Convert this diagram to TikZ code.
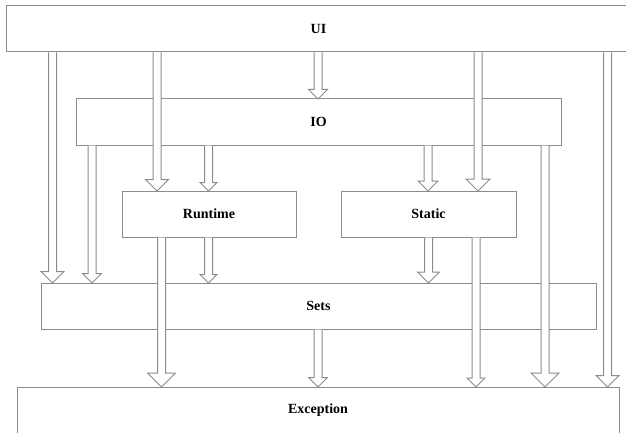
\documentclass[tikz,border=0pt]{standalone}
\usepackage{fontspec}
\setmainfont{Liberation Serif}
\usetikzlibrary{calc}
\definecolor{edge}{RGB}{140,140,140}
\newcommand{\blockarr}[4]{%
  \draw[blockarrow] let \p1=(#2.south), \p2=(#3.north) in
    (#1pt-4pt,\y1-0.5pt) -- (#1pt-4pt,\y2+#4pt) -- (#1pt-#4pt,\y2+#4pt) -- (#1pt,\y2)
    -- (#1pt+#4pt,\y2+#4pt) -- (#1pt+4pt,\y2+#4pt) -- (#1pt+4pt,\y1-0.5pt);}
\begin{document}
\begin{tikzpicture}[x=1pt,y=-1pt,
  box/.style={draw=edge, line width=1pt, fill=white, inner sep=0pt, outer sep=0pt,
    anchor=north west, font=\bfseries\fontsize{14}{16}\selectfont},
  blockarrow/.style={draw=edge, line width=1pt, fill=white, line join=miter}]
\useasboundingbox (0,0) rectangle (626,433);
\clip (0,0) rectangle (626,433);
\fill[white] (0,0) rectangle (626,433);
\node[box, minimum width=625, minimum height=46] (ui) at (6,6) {UI};
\node[box, minimum width=485, minimum height=46] (io) at (76,99) {IO};
\node[box, minimum width=174, minimum height=46] (runtime) at (122,191) {Runtime};
\node[box, minimum width=175, minimum height=46] (static) at (341,191) {Static};
\node[box, minimum width=555, minimum height=46] (sets) at (41,283) {Sets};
\node[box, minimum width=602, minimum height=47] (exc) at (17,387) {Exception};
\blockarr{52.5}{ui}{sets}{11.5}
\blockarr{157}{ui}{runtime}{11.5}
\blockarr{318}{ui}{io}{9.5}
\blockarr{478}{ui}{static}{12}
\blockarr{607.5}{ui}{exc}{11.5}
\blockarr{92}{io}{sets}{9.5}
\blockarr{208.5}{io}{runtime}{8.5}
\blockarr{428}{io}{static}{10}
\blockarr{545}{io}{exc}{14}
\blockarr{161.5}{runtime}{exc}{14}
\blockarr{208.5}{runtime}{sets}{8.5}
\blockarr{428.5}{static}{sets}{11}
\blockarr{476}{static}{exc}{9}
\blockarr{318}{sets}{exc}{9.5}
\end{tikzpicture}
\end{document}
